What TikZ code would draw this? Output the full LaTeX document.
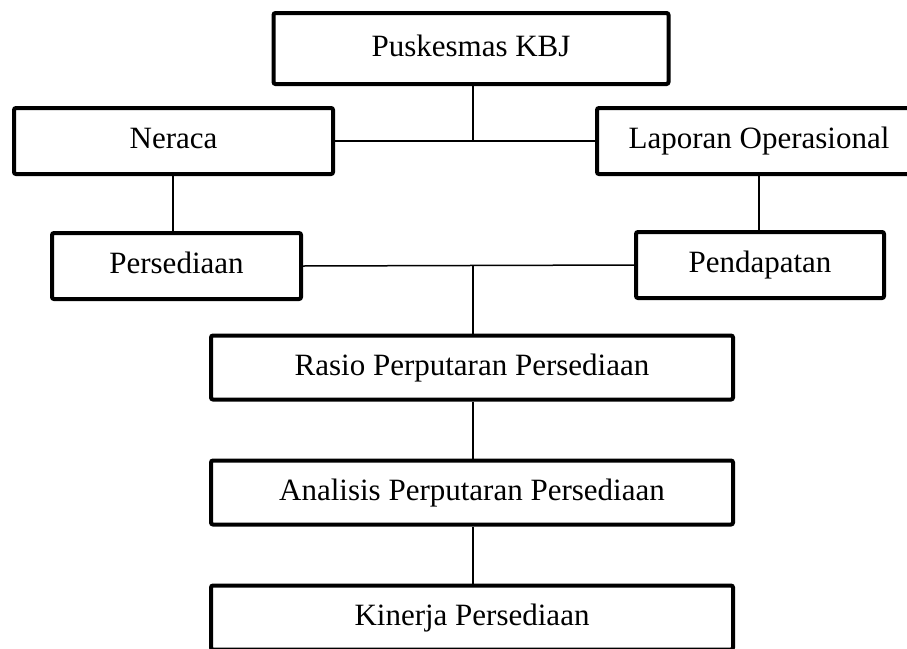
\documentclass[tikz,border=0pt]{standalone}
\usepackage{fontspec}
\setmainfont{Liberation Serif}
\usetikzlibrary{positioning,calc}

\begin{document}
\begin{tikzpicture}[
  x=1pt, y=-1pt,
  node distance=57pt,
  box/.style={draw, line width=4pt, rounded corners=2pt, inner sep=0pt, minimum height=66pt, text height=21pt, text depth=6pt, align=center, font=\fontsize{31}{37}\selectfont},
  wide/.style={box, minimum width=522pt, minimum height=64pt},
  link/.style={line width=1.5pt}
]
\useasboundingbox (0,0) rectangle (907,648);
\node[box, minimum width=395pt, minimum height=71pt] (puskesmas) at (471,48.5) {Puskesmas KBJ};
\node[box, minimum width=319pt] (neraca) at (173.5,141) {Neraca};
\node[box, minimum width=324pt] (laporan) at (759,141) {Laporan Operasional};
\node[box, minimum width=249pt] (persediaan) at (176.5,266) {Persediaan};
\node[box, minimum width=248pt] (pendapatan) at (760,265) {Pendapatan};
\node[wide] (rasio) at (472,367.5) {Rasio Perputaran Persediaan};
\node[wide, below=of rasio] (analisis) {Analisis Perputaran Persediaan};
\node[wide, below=of analisis] (kinerja) {Kinerja Persediaan};
\coordinate (top) at (473,141);
\coordinate (mid) at (473,265);
\draw[link] (neraca) -- (laporan);
\draw[link] (puskesmas.south -| top) -- (top);
\draw[link] (neraca.south -| 173,0) -- (persediaan.north -| 173,0);
\draw[link] (laporan) -- (pendapatan.north -| laporan);
\draw[link] (persediaan.east) -- (pendapatan.west);
\draw[link] (mid) -- (rasio.north -| mid);
\draw[link] (rasio.south -| mid) -- (analisis.north -| mid);
\draw[link] (analisis.south -| mid) -- (kinerja.north -| mid);
\end{tikzpicture}
\end{document}
